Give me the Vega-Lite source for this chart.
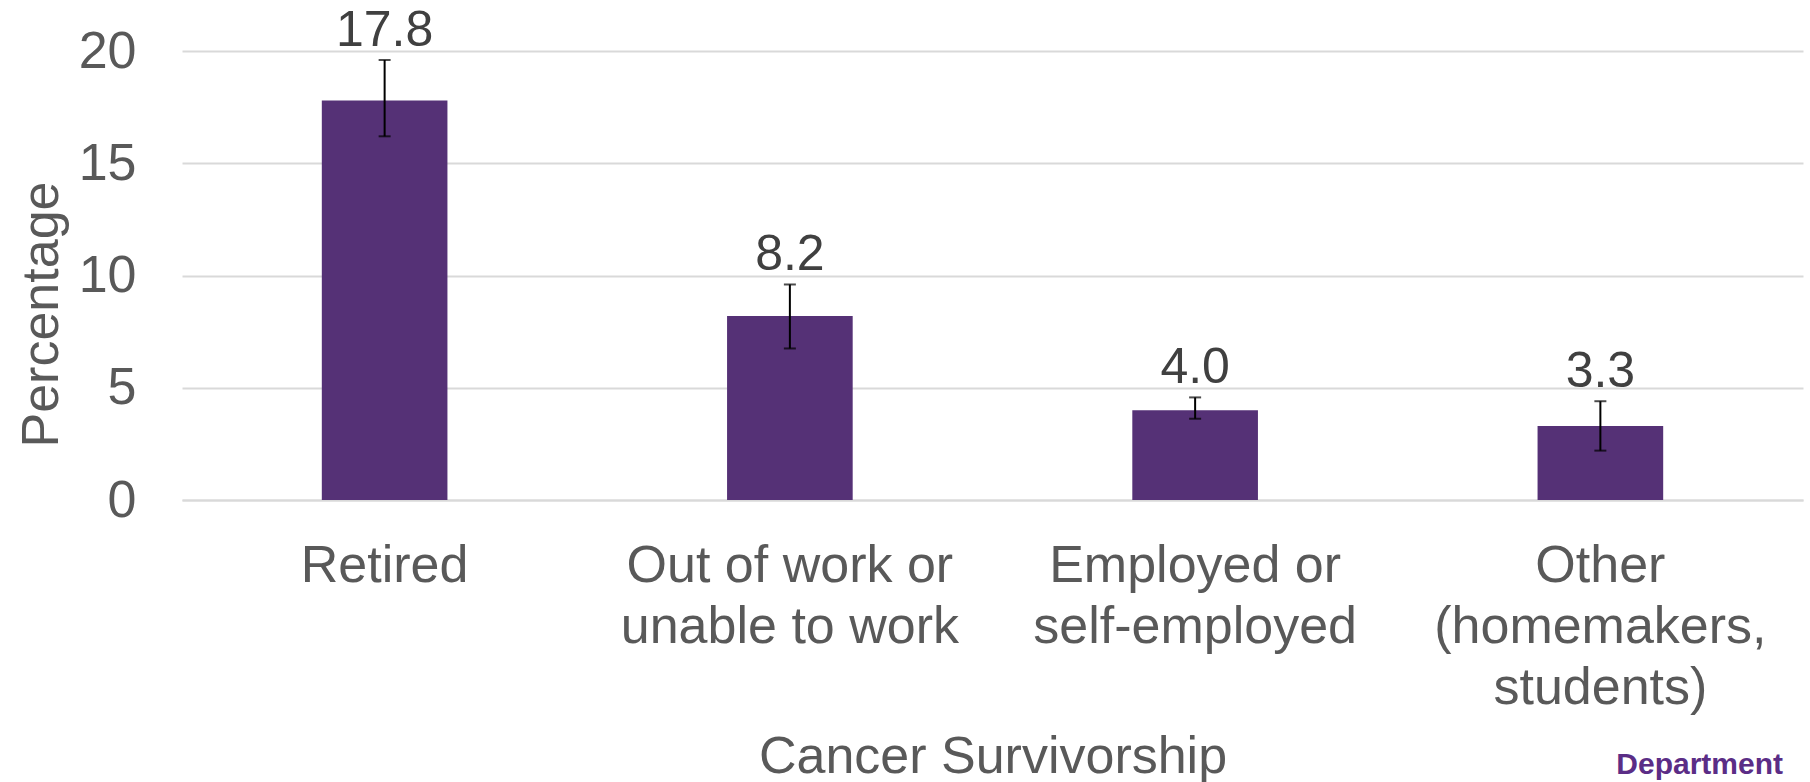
{
  "$schema": "https://vega.github.io/schema/vega-lite/v6.json",
  "width": 1621,
  "height": 449,
  "autosize": {"type": "none"},
  "padding": {"left": 182, "top": 51, "right": 7, "bottom": 282},
  "background": "white",
  "title": {
    "text": "Department",
    "orient": "bottom",
    "anchor": "end",
    "frame": "group",
    "offset": -8,
    "dx": -20,
    "baseline": "alphabetic",
    "font": "Liberation Sans",
    "fontSize": 30,
    "fontWeight": "bold",
    "color": "#5b2d86"
  },
  "data": {
    "values": [
      {"status": "Retired", "pct": 17.8, "lower": 16.2, "upper": 19.6},
      {"status": "Out of work or|unable to work", "pct": 8.2, "lower": 6.75, "upper": 9.6},
      {"status": "Employed or|self-employed", "pct": 4.0, "lower": 3.62, "upper": 4.57},
      {"status": "Other|(homemakers,|students)", "pct": 3.3, "lower": 2.2, "upper": 4.4}
    ]
  },
  "config": {
    "view": {"stroke": null},
    "font": "Liberation Sans"
  },
  "encoding": {
    "x": {
      "field": "status",
      "type": "nominal",
      "sort": null,
      "scale": {"paddingInner": 0.69, "paddingOuter": 0.345},
      "axis": {
        "title": "Cancer Survivorship",
        "labelExpr": "split(datum.value, '|')",
        "labelAngle": 0,
        "labelLimit": 0,
        "labelFont": "Liberation Sans",
        "labelFontSize": 52,
        "labelColor": "#595959",
        "labelBaseline": "top",
        "labelLineHeight": 61,
        "labelPadding": 40,
        "ticks": false,
        "domainColor": "#d9d9d9",
        "domainWidth": 2,
        "titleFont": "Liberation Sans",
        "titleFontSize": 52,
        "titleFontWeight": "normal",
        "titleColor": "#595959",
        "titleBaseline": "alphabetic",
        "titleY": 272
      }
    }
  },
  "layer": [
    {
      "mark": {"type": "bar", "color": "#553176"},
      "encoding": {
        "y": {
          "field": "pct",
          "type": "quantitative",
          "scale": {"domain": [0, 20], "nice": false},
          "axis": {
            "title": "Percentage",
            "values": [0, 5, 10, 15, 20],
            "grid": true,
            "gridColor": "#d9d9d9",
            "gridWidth": 2,
            "domain": false,
            "ticks": false,
            "labelFont": "Liberation Sans",
            "labelFontSize": 52,
            "labelColor": "#595959",
            "labelPadding": 46,
            "titleFont": "Liberation Sans",
            "titleFontSize": 52,
            "titleFontWeight": "normal",
            "titleColor": "#595959",
            "titleAngle": 270,
            "titleBaseline": "alphabetic",
            "titleAlign": "center",
            "titleX": -125,
            "titleY": 263
          }
        }
      }
    },
    {
      "mark": {"type": "rule", "color": "black", "strokeWidth": 2},
      "encoding": {
        "y": {"field": "lower", "type": "quantitative"},
        "y2": {"field": "upper"}
      }
    },
    {
      "mark": {"type": "tick", "color": "black", "size": 12, "thickness": 2},
      "encoding": {
        "y": {"field": "upper", "type": "quantitative"}
      }
    },
    {
      "mark": {"type": "tick", "color": "black", "size": 12, "thickness": 2},
      "encoding": {
        "y": {"field": "lower", "type": "quantitative"}
      }
    },
    {
      "mark": {"type": "text", "baseline": "alphabetic", "dy": -14, "fontSize": 50, "font": "Liberation Sans", "color": "#404040"},
      "encoding": {
        "y": {"field": "upper", "type": "quantitative"},
        "text": {"field": "pct", "type": "quantitative", "format": ".1f"}
      }
    }
  ]
}
